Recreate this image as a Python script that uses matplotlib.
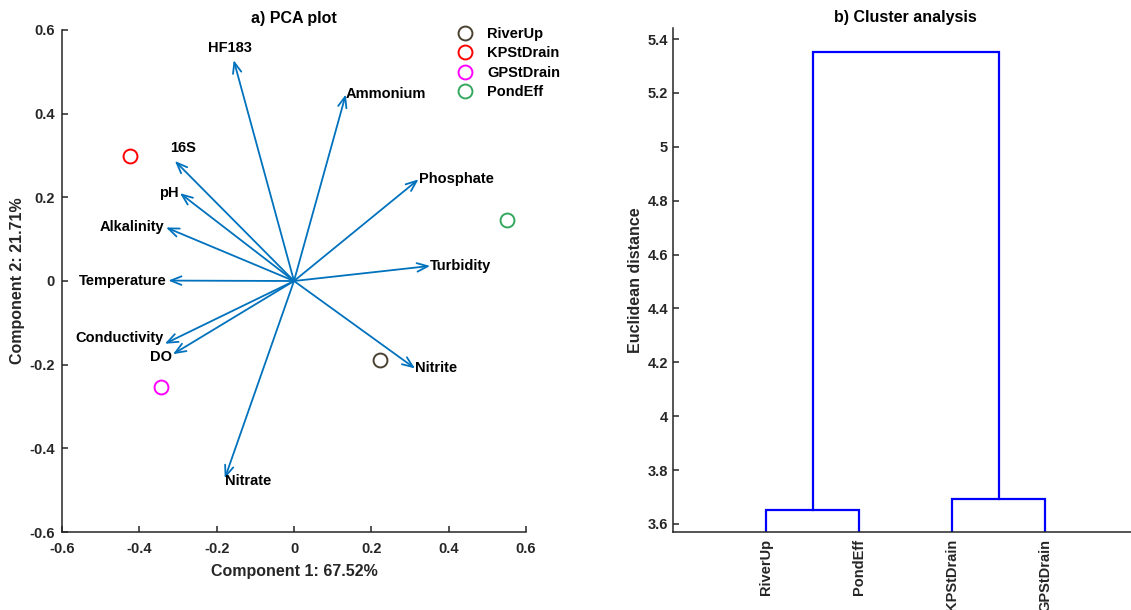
"""
PCA biplot and cluster dendrogram for the four sampling sites
"""
import numpy as np
import matplotlib
matplotlib.use('Agg')
import matplotlib.pyplot as plt
from matplotlib.lines import Line2D

plt.rcParams['font.family'] = ['Liberation Sans', 'DejaVu Sans']

# PCA loadings (arrows)
variables = ['HF183', 'Ammonium', '16S', 'pH', 'Alkalinity', 'Temperature',
             'Phosphate', 'Turbidity', 'Conductivity', 'DO', 'Nitrite',
             'Nitrate']
load_pc1 = [-0.156, 0.134, -0.308, -0.295, -0.331, -0.325,
            0.322, 0.352, -0.334, -0.313, 0.313, -0.179]
load_pc2 = [0.528, 0.446, 0.287, 0.210, 0.128, 0.001,
            0.243, 0.036, -0.150, -0.175, -0.209, -0.472]

# PCA scores (sites)
sites = ['RiverUp', 'KPStDrain', 'GPStDrain', 'PondEff']
score_pc1 = [0.222, -0.425, -0.343, 0.552]
score_pc2 = [-0.189, 0.298, -0.253, 0.147]
site_colors = ['#4a4030', '#ff0000', '#ff00ff', '#35a860']

# Dendrogram
leaf_order = ['RiverUp', 'PondEff', 'KPStDrain', 'GPStDrain']
# each link: (left node, right node, height); nodes 1..4 are leaves
links = [(1, 2, 3.653), (3, 4, 3.693), (5, 6, 5.352)]

axis_col = '#262626'
arrow_col = '#0072bd'
fs_tick = 10.5
fs_lab = 11.5

fig = plt.figure(figsize=(11.31, 6.10), dpi=100)

'''
a) PCA plot
'''
ax1 = fig.add_axes([62 / 1131, 78 / 610, 464 / 1131, 502 / 610])

for name, x, y in zip(variables, load_pc1, load_pc2):
    ax1.annotate('', xy=(x, y), xytext=(0, 0),
                 arrowprops=dict(arrowstyle='->,head_length=0.55,head_width=0.22',
                                 color=arrow_col, lw=1.3, shrinkA=0, shrinkB=0,
                                 mutation_scale=14))
    # label placement: right of tip for positive x, left for negative
    if name in ('HF183', '16S'):
        ax1.annotate(name, xy=(x, y), xytext=(-3 if name == 'HF183' else 6, 4),
                     textcoords='offset points', ha='center', va='bottom',
                     fontsize=fs_tick, fontweight='bold', color='black')
    elif x > 0 or name == 'Nitrate':
        dy = -2 if name == 'Nitrate' else 0
        ax1.annotate(name, xy=(x, y), xytext=(0, dy), textcoords='offset points',
                     ha='left', va='center', fontsize=fs_tick, fontweight='bold',
                     color='black')
    else:
        dy = 4 if name == 'Conductivity' else (-2 if name == 'DO' else 0)
        ax1.annotate(name, xy=(x, y), xytext=(-1, dy), textcoords='offset points',
                     ha='right', va='center', fontsize=fs_tick, fontweight='bold',
                     color='black')

handles = []
for name, x, y, c in zip(sites, score_pc1, score_pc2, site_colors):
    ax1.plot(x, y, 'o', mfc='none', mec=c, mew=1.4, ms=10)
    handles.append(Line2D([], [], ls='none', marker='o', mfc='none', mec=c,
                          mew=1.4, ms=10, label=name))

leg = ax1.legend(handles=handles, loc='upper left', bbox_to_anchor=(0.853, 1.006),
                 frameon=False, borderaxespad=0, borderpad=0, handlelength=1.0,
                 handletextpad=1.0, labelspacing=0.37,
                 prop={'size': fs_tick, 'weight': 'bold'})

ax1.set_xlim(-0.6, 0.6)
ax1.set_ylim(-0.6, 0.6)
ax1.set_xticks(np.arange(-0.6, 0.61, 0.2))
ax1.set_yticks(np.arange(-0.6, 0.61, 0.2))
ticklabs = ['-0.6', '-0.4', '-0.2', '0', '0.2', '0.4', '0.6']
ax1.set_xticklabels(ticklabs)
ax1.set_yticklabels(ticklabs)
ax1.set_title('a) PCA plot', fontsize=fs_lab, fontweight='bold', pad=5)
ax1.set_xlabel('Component 1: 67.52%', fontsize=fs_lab, fontweight='bold',
               color=axis_col, labelpad=6)
ax1.set_ylabel('Component 2: 21.71%', fontsize=fs_lab, fontweight='bold',
               color=axis_col, labelpad=3)

'''
b) Cluster analysis
'''
ax2 = fig.add_axes([673 / 1131, 78 / 610, 465 / 1131, 504 / 610])

# node positions: leaves at 1..n, merged nodes at midpoint of children
node_x = {i + 1: float(i + 1) for i in range(len(leaf_order))}
node_h = {i + 1: 0.0 for i in range(len(leaf_order))}
for k, (a, b, h) in enumerate(links):
    xa, xb = node_x[a], node_x[b]
    ax2.plot([xa, xa, xb, xb], [node_h[a], h, h, node_h[b]],
             color='#0000ff', lw=1.6, solid_joinstyle='miter')
    node_x[len(leaf_order) + k + 1] = (xa + xb) / 2
    node_h[len(leaf_order) + k + 1] = h

ax2.set_xlim(0, len(leaf_order) + 1)
ax2.set_ylim(3.570, 5.441)
ax2.set_xticks(range(1, len(leaf_order) + 1))
ax2.set_xticklabels(leaf_order, rotation=90, fontsize=fs_tick, fontweight='bold')
ax2.set_yticks([3.6, 3.8, 4.0, 4.2, 4.4, 4.6, 4.8, 5.0, 5.2, 5.4])
ax2.set_yticklabels(['3.6', '3.8', '4', '4.2', '4.4', '4.6', '4.8', '5',
                     '5.2', '5.4'])
ax2.set_title('b) Cluster analysis', fontsize=fs_lab, fontweight='bold', pad=4)
ax2.set_ylabel('Euclidean distance', fontsize=fs_lab, fontweight='bold',
               color=axis_col, labelpad=3)

# common styling
for ax in (ax1, ax2):
    for side in ('top', 'right'):
        ax.spines[side].set_visible(False)
    for side in ('left', 'bottom'):
        ax.spines[side].set_color(axis_col)
        ax.spines[side].set_linewidth(1.1)
    ax.tick_params(direction='in', color=axis_col, labelcolor=axis_col,
                   width=1.1, labelsize=fs_tick)
    for lab in ax.get_xticklabels() + ax.get_yticklabels():
        lab.set_fontweight('bold')
ax1.tick_params(length=4)
ax1.tick_params(axis='x', pad=7)
ax1.tick_params(axis='y', pad=5)
ax2.tick_params(axis='y', length=4)
ax2.tick_params(axis='x', length=0, pad=5)

fig.savefig('out.png', dpi=100)
